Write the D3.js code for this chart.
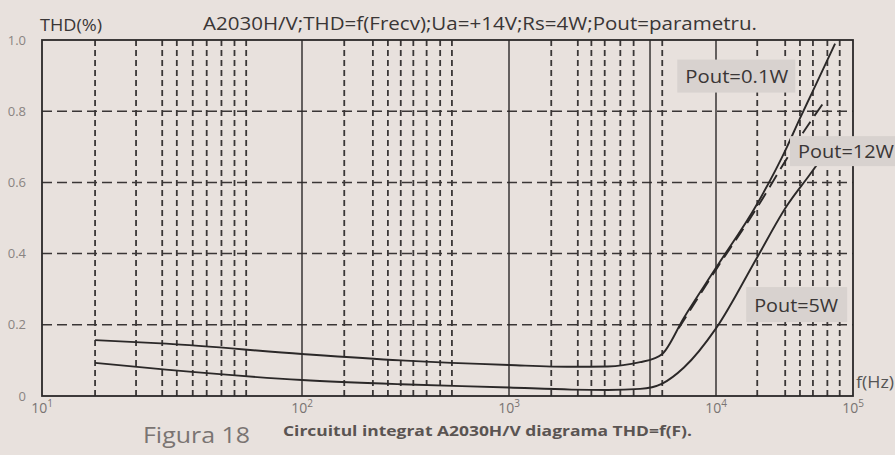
<!DOCTYPE html>
<html>
<head>
<meta charset="utf-8">
<script src="https://cdn.jsdelivr.net/npm/d3@7"></script>
<style>
    body { margin: 0; background: #e8e1dd; }
    svg { display: block; font-family: "Open Sans", sans-serif; }
</style>
</head>
<body>
<svg id="chart" width="895" height="455"></svg>
<script>
// ====================================
// Données
// ====================================
const decades = [10, 100, 1000, 10000, 100000];
const solidFreqs = [100, 1000, 4800, 10000];
const dashedFreqs = [16, 23, 29, 33, 38, 43, 49, 55, 61,
    160, 220, 260, 300, 345, 400, 465, 530,
    1600, 2150, 2500, 2900, 3450, 4000, 5500,
    20000, 32000, 41000, 51000, 65000, 80000];
const thdTicks = [0, 0.2, 0.4, 0.6, 0.8, 1.0];
const thdGrid = [0.2, 0.4, 0.6, 0.8];

// Pout = 0.1W
const freqs01 = [16, 30, 100, 300, 1000, 2000, 3000, 4300, 5000, 5500, 7000, 10000, 20000, 33000, 41000, 50000, 74000];
const thd01 = [0.157, 0.147, 0.118, 0.100, 0.087, 0.082, 0.083, 0.095, 0.105, 0.118, 0.22, 0.36, 0.54, 0.70, 0.78, 0.85, 0.99];
// Pout = 5W
const freqs5 = [16, 30, 100, 300, 1000, 2000, 3000, 4300, 5500, 7000, 10000, 20000, 33000, 48000, 65000];
const thd5 = [0.093, 0.074, 0.045, 0.033, 0.024, 0.018, 0.017, 0.02, 0.035, 0.08, 0.19, 0.39, 0.535, 0.62, 0.69];
// Pout = 12W (tireté)
const freqs12 = [6600, 10000, 20000, 33000, 45000, 60000];
const thd12 = [0.19, 0.355, 0.53, 0.668, 0.75, 0.82];

const labels = [
    { text: "Pout=0.1W", f: 6500, v: 0.945 },
    { text: "Pout=12W", f: 34700, v: 0.73 },
    { text: "Pout=5W", f: 16600, v: 0.306 }
];

// ====================================
// Échelles (la figure scannée a des décades inégales)
// ====================================
const svg = d3.select("#chart");
const ink = "#2b2828";

const x = d3.scaleLog()
    .domain(decades)
    .range([42, 302, 509, 716, 853]);

const y = d3.scaleLinear()
    .domain([0, 1])
    .range([396, 40]);

/**
 * Grille : lignes verticales pleines/tiretées et horizontales tiretées
 */
function drawGrid() {
    const g = svg.append("g").attr("class", "grid");

    g.selectAll(".hgrid")
        .data(thdGrid)
        .join("line")
        .attr("x1", x.range()[0])
        .attr("x2", x(100000))
        .attr("y1", d => y(d))
        .attr("y2", d => y(d))
        .style("stroke", "#3a3636")
        .style("stroke-width", 1.5)
        .style("stroke-dasharray", "10,5");

    g.selectAll(".vdash")
        .data(dashedFreqs)
        .join("line")
        .attr("x1", d => x(d))
        .attr("x2", d => x(d))
        .attr("y1", y(1))
        .attr("y2", y(0))
        .style("stroke", "#3a3636")
        .style("stroke-width", 1.8)
        .style("stroke-dasharray", "6,4");

    g.selectAll(".vsolid")
        .data(solidFreqs)
        .join("line")
        .attr("x1", d => x(d))
        .attr("x2", d => x(d))
        .attr("y1", y(1))
        .attr("y2", y(0))
        .style("stroke", ink)
        .style("stroke-width", 1.4);

    // cadre
    g.append("rect")
        .attr("x", x(10))
        .attr("y", y(1))
        .attr("width", x(100000) - x(10))
        .attr("height", y(0) - y(1))
        .style("fill", "none")
        .style("stroke", ink)
        .style("stroke-width", 1.8);
}

/**
 * Axes : étiquettes THD à gauche, puissances de 10 en bas
 */
function drawAxes() {
    const yAxis = svg.append("g")
        .attr("transform", "translate(26,0)")
        .call(d3.axisLeft(y)
            .tickValues(thdTicks)
            .tickSize(0)
            .tickPadding(0)
            .tickFormat(d => d === 0 ? "0" : d3.format(".1f")(d)));
    yAxis.select(".domain").remove();
    yAxis.selectAll("text")
        .style("font-family", "Open Sans, sans-serif")
        .style("font-size", "13px")
        .style("fill", "#8a8482");

    const xLabels = svg.append("g")
        .selectAll("text")
        .data(decades)
        .join("text")
        .attr("x", d => x(d))
        .attr("y", 413)
        .attr("text-anchor", "middle")
        .style("font-size", "14px")
        .style("fill", "#7a7472");
    xLabels.append("tspan").text("10");
    xLabels.append("tspan")
        .attr("dy", -6)
        .style("font-size", "10px")
        .text(d => Math.round(Math.log10(d)));

    svg.append("text")
        .attr("x", 856)
        .attr("y", 388)
        .attr("textLength", 38)
        .attr("lengthAdjust", "spacingAndGlyphs")
        .style("font-size", "16px")
        .style("fill", "#555")
        .text("f(Hz)");

    svg.append("text")
        .attr("x", 40)
        .attr("y", 31)
        .attr("textLength", 62)
        .attr("lengthAdjust", "spacingAndGlyphs")
        .style("font-size", "16px")
        .style("fill", "#3a3636")
        .text("THD(%)");

    svg.append("text")
        .attr("x", 203)
        .attr("y", 30)
        .attr("textLength", 554)
        .attr("lengthAdjust", "spacingAndGlyphs")
        .style("font-size", "18px")
        .style("fill", "#3a3636")
        .text("A2030H/V;THD=f(Frecv);Ua=+14V;Rs=4W;Pout=parametru.");
}

/**
 * Courbes THD = f(F)
 */
function drawCurves() {
    const line = d3.line()
        .x(d => x(d[0]))
        .y(d => y(d[1]))
        .curve(d3.curveMonotoneX);

    const series = [
        { pts: d3.zip(freqs01, thd01), dash: null },
        { pts: d3.zip(freqs5, thd5), dash: null },
        { pts: d3.zip(freqs12, thd12), dash: "14,7" }
    ];

    svg.append("g")
        .selectAll("path")
        .data(series)
        .join("path")
        .attr("d", d => line(d.pts))
        .style("fill", "none")
        .style("stroke", ink)
        .style("stroke-width", 1.9)
        .style("stroke-dasharray", d => d.dash);
}

/**
 * Étiquettes des courbes dans des cartouches grises
 */
function drawLabels() {
    const sizes = { "Pout=0.1W": [118, 33, 103], "Pout=12W": [105, 30, 96], "Pout=5W": [101, 35, 84] };

    const g = svg.append("g")
        .selectAll("g")
        .data(labels)
        .join("g")
        .attr("transform", d => `translate(${x(d.f)},${y(d.v)})`);

    g.append("rect")
        .attr("width", d => sizes[d.text][0])
        .attr("height", d => sizes[d.text][1])
        .style("fill", "#d8d2cf");

    g.append("text")
        .attr("x", 8)
        .attr("y", d => sizes[d.text][1] / 2 + 7)
        .attr("textLength", d => sizes[d.text][2])
        .attr("lengthAdjust", "spacingAndGlyphs")
        .style("font-size", "19px")
        .style("fill", "#3a3636")
        .text(d => d.text);
}

/**
 * Légende de la figure
 */
function drawCaption() {
    svg.append("text")
        .attr("x", 143)
        .attr("y", 443)
        .attr("textLength", 107)
        .attr("lengthAdjust", "spacingAndGlyphs")
        .style("font-size", "21px")
        .style("fill", "#7a7472")
        .text("Figura 18");

    svg.append("text")
        .attr("x", 283)
        .attr("y", 436)
        .attr("textLength", 409)
        .attr("lengthAdjust", "spacingAndGlyphs")
        .style("font-size", "15px")
        .style("font-weight", "bold")
        .style("fill", "#5a5452")
        .text("Circuitul integrat A2030H/V diagrama THD=f(F).");
}

drawGrid();
drawCurves();
drawAxes();
drawLabels();
drawCaption();
</script>
</body>
</html>
